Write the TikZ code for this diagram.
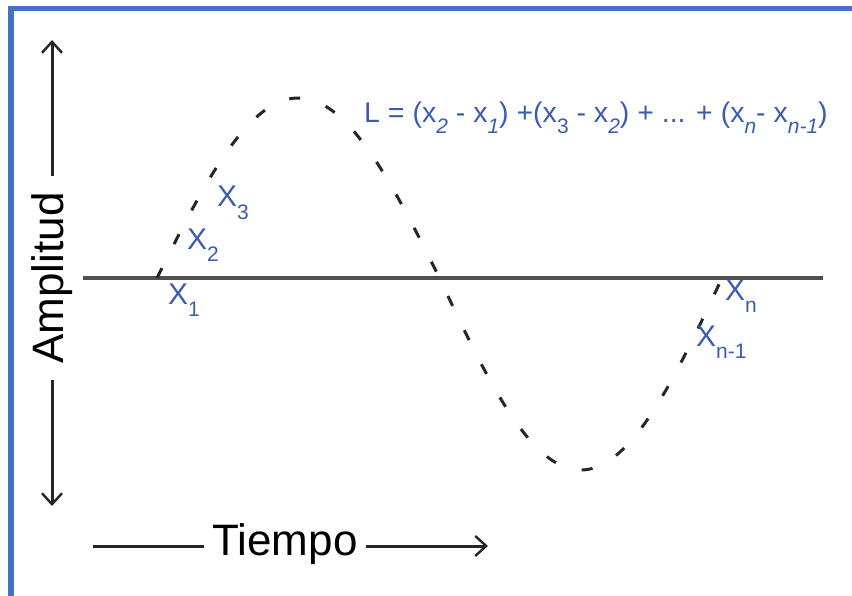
\documentclass[tikz,border=0pt]{standalone}
\usepackage{fontspec}
\setmainfont{Liberation Sans}
\usetikzlibrary{arrows.meta}
\definecolor{frameblue}{RGB}{68,114,196}
\definecolor{lblblue}{RGB}{58,92,178}
\definecolor{axisgray}{RGB}{80,80,80}
\newcommand\lsub[1]{\raisebox{-0.42em}{\fontsize{21}{21}\selectfont #1}}
\newcommand\fsub[1]{\raisebox{-0.38em}{\fontsize{21}{21}\selectfont #1}}
\begin{document}
\begin{tikzpicture}[x=1pt,y=-1pt,
  frameline/.style={frameblue,line width=5.5pt},
  axisline/.style={axisgray,line width=3.2pt},
  arrowline/.style={black!85,line width=3pt},
  tip/.style={-{Straight Barb[length=11pt,width=20pt,line width=2.4pt]}},
  wave/.style={black!85,line width=3pt,dash pattern=on 11pt off 27pt},
  lbl/.style={lblblue,anchor=west,inner sep=0pt,font=\fontsize{30}{32}\selectfont},
  axlabel/.style={inner sep=8pt,font=\fontsize{44}{48}\selectfont}]
\useasboundingbox (0,0) rectangle (852,596);
% frame
\draw[frameline] (11,596) -- (11,8.5) -- (852,8.5);
% horizontal axis
\coordinate (axL) at (83,278);
\coordinate (axR) at (823,278);
\draw[axisline] (axL) -- (axR);
% wave
\draw[wave] plot[domain=157:439.5,samples=90] (\x,{278-180*sin((\x-157)/282.5*180)})
  -- plot[domain=439.5:722,samples=90] (\x,{278+192*sin((\x-439.5)/282.5*180)});
% amplitude axis
\node[axlabel,rotate=90,inner xsep=16pt] (amp) at (52,278) {Amplitud};
\coordinate (ampTop) at (52,40);
\coordinate (ampBot) at (52,506);
\draw[arrowline,tip] (amp.east) -- (ampTop);
\draw[arrowline,tip] (amp.west) -- (ampBot);
% time axis
\node[axlabel] (time) at (285,544) {Tiempo};
\coordinate (tL) at (93,546);
\coordinate (tR) at (488,546);
\draw[arrowline] (tL) -- (tL -| time.west);
\draw[arrowline,tip] (tR -| time.east) -- (tR);
% point labels
\node[lbl] (x1) at (168,300) {X\lsub{1}};
\node[lbl] (x2) at (187,245) {X\lsub{2}};
\node[lbl] (x3) at (217,203) {X\lsub{3}};
\node[lbl] (xn) at (725,296) {X\lsub{n}};
\node[lbl] (xn1) at (696,342) {X\lsub{n-1}};
% formula
\node[lbl,font=\fontsize{28.5}{30}\selectfont] (formula) at (364,118)
  {L = (x\fsub{\textit{2}} - x\fsub{\textit{1}}) +(x\fsub{3} - x\fsub{\textit{2}}) + ... + (x\fsub{\textit{n}}- x\fsub{\textit{n-1}})};
\end{tikzpicture}
\end{document}
